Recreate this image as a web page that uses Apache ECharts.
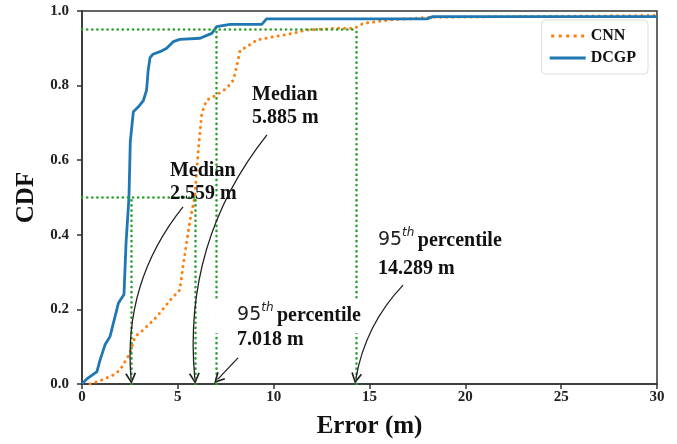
<!DOCTYPE html>
<html>
<head>
<meta charset="utf-8">
<script src="https://cdn.jsdelivr.net/npm/echarts@6/dist/echarts.min.js"></script>
<style>
  html, body { margin: 0; padding: 0; background: #fff; }
  #chart { width: 677px; height: 444px; }
</style>
</head>
<body>
<div id="chart"></div>
<script>
const cnnErr = [0.42, 1.0, 1.63, 1.98, 2.5, 2.77, 3.2, 3.9, 4.6, 5.1, 5.37, 5.64, 5.88, 6.07, 6.25, 6.5, 7.03, 7.55, 7.9, 8.07, 8.25, 8.6, 9.1, 10.0, 11.0, 11.7, 13.5, 14.24, 14.67, 16.07, 18.16, 30];
const cnnCdf = [0, 0.01, 0.024, 0.037, 0.082, 0.127, 0.145, 0.18, 0.225, 0.252, 0.35, 0.44, 0.5, 0.627, 0.726, 0.761, 0.775, 0.793, 0.815, 0.851, 0.895, 0.904, 0.922, 0.931, 0.94, 0.949, 0.954, 0.954, 0.967, 0.976, 0.983, 0.988];

const dcgpErr = [0, 0.24, 0.78, 0.94, 1.2, 1.46, 1.9, 2.19, 2.3, 2.45, 2.52, 2.68, 2.94, 3.2, 3.37, 3.45, 3.55, 3.7, 4.07, 4.42, 4.77, 5.1, 6.16, 6.77, 7.03, 7.72, 9.38, 9.63, 18.0, 18.3, 30];
const dcgpCdf = [0, 0.013, 0.033, 0.064, 0.105, 0.127, 0.217, 0.24, 0.38, 0.5, 0.65, 0.73, 0.743, 0.76, 0.788, 0.84, 0.875, 0.884, 0.891, 0.9, 0.918, 0.924, 0.927, 0.94, 0.958, 0.964, 0.964, 0.979, 0.979, 0.985, 0.985];

const medianCnn = 5.885;
const medianDcgp = 2.559;
const p95Cnn = 14.289;
const p95Dcgp = 7.018;

const yTickLabels = ['0.0', '0.2', '0.4', '0.6', '0.8', '1.0'];

const serif = '"Liberation Serif", "Times New Roman", serif';
const green = '#2ca02c';

function pairs(xs, ys) {
    return xs.map((x, i) => [x, ys[i]]);
}

// green dotted guide segments
function seg(x1, y1, x2, y2) {
    return [{ coord: [x1, y1] }, { coord: [x2, y2] }];
}

// annotation arrows (lines series does the curving)
function arrow(x1, y1, x2, y2, curve) {
    return { coords: [[x1, y1], [x2, y2]], lineStyle: { curveness: curve } };
}

const rich = {
    b: { fontFamily: serif, fontWeight: 'bold', fontSize: 20, color: '#111', lineHeight: 23 },
    n: { fontFamily: '"DejaVu Sans", sans-serif', fontSize: 19, color: '#222', lineHeight: 26 },
    s: { fontFamily: '"DejaVu Sans", sans-serif', fontStyle: 'italic', fontSize: 12, color: '#222', verticalAlign: 'top', lineHeight: 26 },
    p: { fontFamily: serif, fontWeight: 'bold', fontSize: 20, color: '#111', lineHeight: 26 }
};

function note(x, y, text, bg) {
    const label = {
        show: true,
        position: [0, 0],
        align: 'left',
        verticalAlign: 'top',
        formatter: text,
        rich: rich
    };
    if (bg) {
        label.position = [-22, 4];
        label.backgroundColor = '#fff';
        label.padding = [2, 0, 5, 22];
    }
    return { coord: [x, y], symbolSize: 0, label: label };
}

const dotLine = 'path://M0,0h3v3h-3z M7.5,0h3v3h-3z M15,0h3v3h-3z M22.5,0h3v3h-3z M30,0h3v3h-3z';
const solidLine = 'path://M0,0H36V3H0Z';

const chart = echarts.init(document.getElementById('chart'));

chart.setOption({
    animation: false,
    backgroundColor: '#fff',
    grid: {
        left: 82, right: 20, top: 11, bottom: 60,
        show: true, borderColor: '#333', borderWidth: 1.5
    },
    legend: {
        data: [
            { name: 'CNN', icon: dotLine },
            { name: 'DCGP', icon: solidLine }
        ],
        orient: 'vertical',
        right: 29, top: 20,
        padding: [8, 12, 8, 8],
        itemGap: 6,
        itemWidth: 36, itemHeight: 3,
        backgroundColor: '#fff',
        borderColor: '#ddd', borderWidth: 1, borderRadius: 4,
        textStyle: { fontFamily: serif, fontWeight: 'bold', fontSize: 16, color: '#111' }
    },
    xAxis: {
        type: 'value', min: 0, max: 30, interval: 5,
        name: 'Error (m)', nameLocation: 'middle', nameGap: 30,
        nameTextStyle: { fontFamily: serif, fontWeight: 'bold', fontSize: 25, color: '#111' },
        axisLine: { lineStyle: { color: '#333', width: 1.5 } },
        axisTick: { show: true, length: 5, lineStyle: { color: '#333', width: 1.5 } },
        axisLabel: { fontFamily: serif, fontWeight: 'bold', fontSize: 15, color: '#222', margin: 6 },
        splitLine: { show: false }
    },
    yAxis: {
        type: 'value', min: 0, max: 1, interval: 0.2,
        name: 'CDF', nameLocation: 'middle', nameGap: 40,
        nameTextStyle: { fontFamily: serif, fontWeight: 'bold', fontSize: 25, color: '#111' },
        axisLine: { show: true, lineStyle: { color: '#333', width: 1.5 } },
        axisTick: { show: true, length: 5, lineStyle: { color: '#333', width: 1.5 } },
        axisLabel: {
            fontFamily: serif, fontWeight: 'bold', fontSize: 15, color: '#222', margin: 13,
            formatter: (v) => yTickLabels[Math.round(v / 0.2)]
        },
        splitLine: { show: false }
    },
    series: [
        {
            name: 'CNN', type: 'line', symbol: 'none', z: 3,
            color: '#ff7f0e',
            lineStyle: { color: '#ff7f0e', width: 3, type: [0.1, 6], cap: 'round' },
            data: pairs(cnnErr, cnnCdf)
        },
        {
            name: 'DCGP', type: 'line', symbol: 'none', z: 4,
            color: '#1f77b4',
            lineStyle: { color: '#1f77b4', width: 2.8 },
            data: pairs(dcgpErr, dcgpCdf)
        },
        {
            name: 'guides', type: 'line', data: [], z: 5,
            markLine: {
                silent: true, symbol: 'none', animation: false,
                label: { show: false },
                lineStyle: { color: green, width: 2.6, type: [0.1, 5], cap: 'round' },
                data: [
                    seg(0, 0.95, p95Cnn, 0.95),
                    seg(p95Cnn, 0, p95Cnn, 0.95),
                    seg(p95Dcgp, 0, p95Dcgp, 0.95),
                    seg(0, 0.5, medianCnn, 0.5),
                    seg(medianDcgp, 0, medianDcgp, 0.5),
                    seg(medianCnn, 0, medianCnn, 0.5)
                ]
            }
        },
        {
            name: 'arrows', type: 'lines', coordinateSystem: 'cartesian2d', z: 6,
            silent: true,
            symbol: ['none', 'path://M0,10 L5,0 L10,10 L8.6,10.8 L5,3.2 L1.4,10.8 Z'],
            symbolSize: [9, 11],
            lineStyle: { color: '#222', width: 1.3, opacity: 1 },
            data: [
                arrow(5.27, 0.475, medianDcgp, 0.015, -0.2),
                arrow(9.65, 0.668, medianCnn, 0.015, -0.2),
                arrow(8.14, 0.07, 7.09, 0.013, 0),
                arrow(16.75, 0.265, p95Cnn, 0.015, -0.15)
            ]
        },
        {
            name: 'notes', type: 'line', data: [], z: 7,
            markPoint: {
                silent: true,
                data: [
                    note(4.59, 0.603, '{b|Median}\n{b|2.559 m}'),
                    note(8.87, 0.807, '{b|Median}\n{b|5.885 m}'),
                    note(8.09, 0.235, '{n|95}{s|th} {p|percentile}', true),
                    note(8.09, 0.148, '{b|7.018 m}'),
                    note(15.44, 0.42, '{n|95}{s|th} {p|percentile}'),
                    note(15.44, 0.34, '{b|14.289 m}')
                ]
            }
        }
    ]
});
</script>
</body>
</html>
